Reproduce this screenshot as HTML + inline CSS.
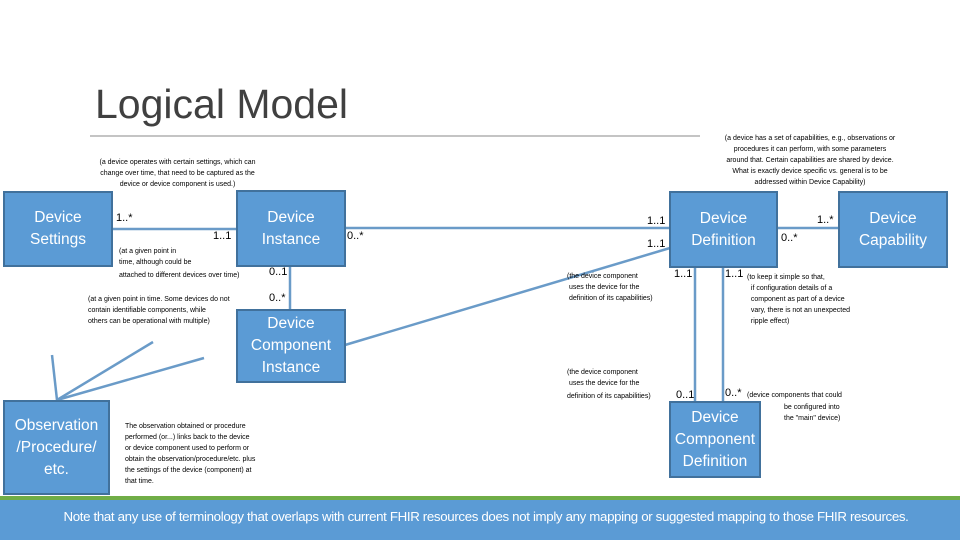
<!DOCTYPE html>
<html><head><meta charset="utf-8"><style>
body{margin:0;width:960px;height:540px;background:#fff;position:relative;overflow:hidden;font-family:"Liberation Sans",sans-serif}
.b{position:absolute;background:#5b9bd5;border:2px solid #41719c;box-sizing:border-box;color:#fff;display:flex;align-items:center;justify-content:center;text-align:center;font-size:15.5px;line-height:22px}
.t{position:absolute;font-size:7px;line-height:11px;color:#000;white-space:nowrap}
.m{position:absolute;font-size:11px;color:#000;white-space:nowrap}
</style></head><body>
<div style="position:absolute;left:95px;top:81px;font-size:41px;color:#404040;letter-spacing:0px">Logical Model</div>
<svg width="960" height="540" style="position:absolute;left:0;top:0">
<line x1="90" y1="136" x2="700" y2="136" stroke="#888" stroke-width="1"/>
<g stroke="#6a9bc8" stroke-width="2.5" fill="none">
<line x1="113" y1="229" x2="236" y2="229"/>
<line x1="345" y1="228" x2="670" y2="228"/>
<line x1="345" y1="345" x2="670" y2="248"/>
<line x1="778" y1="228" x2="838" y2="228"/>
<line x1="290" y1="266" x2="290" y2="309"/>
<line x1="695" y1="267" x2="695" y2="401"/>
<line x1="723" y1="267" x2="723" y2="401"/>
<line x1="52" y1="355" x2="57" y2="400"/>
<line x1="153" y1="342" x2="57" y2="400"/>
<line x1="204" y1="358" x2="57" y2="400"/>
</g>
<rect x="0" y="496" width="960" height="4" fill="#70ad47"/>
<rect x="0" y="500" width="960" height="40" fill="#5b9bd5"/>
</svg>
<div class="b" style="left:3px;top:191px;width:110px;height:76px">Device<br>Settings</div>
<div class="b" style="left:236px;top:190px;width:110px;height:77px">Device<br>Instance</div>
<div class="b" style="left:236px;top:309px;width:110px;height:74px">Device<br>Component<br>Instance</div>
<div class="b" style="left:669px;top:191px;width:109px;height:77px">Device<br>Definition</div>
<div class="b" style="left:838px;top:191px;width:110px;height:77px">Device<br>Capability</div>
<div class="b" style="left:669px;top:401px;width:92px;height:77px">Device<br>Component<br>Definition</div>
<div class="b" style="left:3px;top:400px;width:107px;height:95px">Observation<br>/Procedure/<br>etc.</div>
<div class="t" style="left:85px;top:157px;text-align:center;width:185px">(a device operates with certain settings, which can<br>change over time, that need to be captured as the<br>device or device component is used.)</div>
<div class="t" style="left:680px;top:133px;text-align:center;width:260px">(a device has a set of capabilities, e.g., observations or<br>procedures it can perform, with some parameters<br>around that. Certain capabilities are shared by device.<br>What is exactly device specific vs. general is to be<br>addressed within Device Capability)</div>
<div class="m" style="left:116px;top:212px">1..*</div>
<div class="m" style="left:213px;top:230px">1..1</div>
<div class="m" style="left:347px;top:230px">0..*</div>
<div class="t" style="left:119px;top:246px">(at a given point in<br>time, although could be</div>
<div class="t" style="left:119px;top:270px">attached to different devices over time)</div>
<div class="m" style="left:269px;top:266px">0..1</div>
<div class="t" style="left:88px;top:294px">(at a given point in time. Some devices do not<br>contain identifiable components, while<br>others can be operational with multiple)</div>
<div class="m" style="left:269px;top:292px">0..*</div>
<div class="m" style="left:647px;top:215px">1..1</div>
<div class="m" style="left:647px;top:238px">1..1</div>
<div class="m" style="left:781px;top:232px">0..*</div>
<div class="m" style="left:817px;top:214px">1..*</div>
<div class="t" style="left:567px;top:271px">(the device component<br>&nbsp;uses the device for the<br>&nbsp;definition of its capabilities)</div>
<div class="m" style="left:674px;top:268px">1..1</div>
<div class="m" style="left:725px;top:268px">1..1</div>
<div class="t" style="left:747px;top:272px">(to keep it simple so that,<br>&nbsp;&nbsp;if configuration details of a<br>&nbsp;&nbsp;component as part of a device<br>&nbsp;&nbsp;vary, there is not an unexpected<br>&nbsp;&nbsp;ripple effect)</div>
<div class="t" style="left:567px;top:367px">(the device component<br>&nbsp;uses the device for the</div>
<div class="t" style="left:567px;top:391px">definition of its capabilities)</div>
<div class="m" style="left:676px;top:389px">0..1</div>
<div class="m" style="left:725px;top:387px">0..*</div>
<div class="t" style="left:747px;top:390px">(device components that could</div>
<div class="t" style="left:784px;top:402px">be configured into<br>the "main" device)</div>
<div class="t" style="left:125px;top:421px">The observation obtained or procedure<br>performed (or...) links back to the device<br>or device component used to perform or<br>obtain the observation/procedure/etc. plus<br>the settings of the device (component) at<br>that time.</div>
<div style="position:absolute;left:0;top:500px;width:972px;height:34px;line-height:34px;text-align:center;color:#fff;font-size:13.3px;letter-spacing:-0.35px">Note that any use of terminology that overlaps with current FHIR resources does not imply any mapping or suggested mapping to those FHIR resources.</div>
</body></html>
